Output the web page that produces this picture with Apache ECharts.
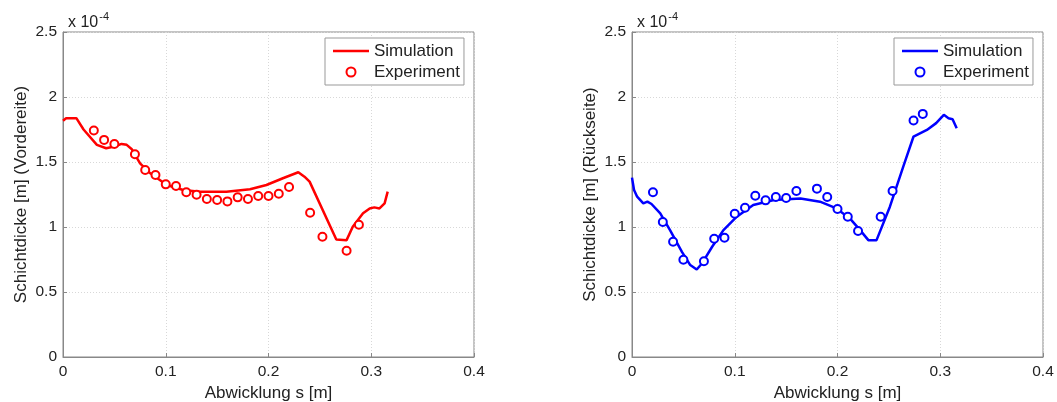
<!DOCTYPE html>
<html><head><meta charset="utf-8">
<script src="https://cdn.jsdelivr.net/npm/echarts@6/dist/echarts.min.js"></script>
<style>html,body{margin:0;padding:0;background:#fff}#c{width:1057px;height:402px}</style>
</head><body><div id="c"></div>
<script>
// values of Schichtdicke in units of 1e-4 m
const xTicks = [0, 0.1, 0.2, 0.3, 0.4];
const yTicks = [0, 0.5, 1, 1.5, 2, 2.5];

const frontSimX = [0, 0.003, 0.013, 0.02, 0.033, 0.042, 0.05, 0.057, 0.062, 0.067, 0.075, 0.085, 0.101, 0.117, 0.133, 0.159, 0.182, 0.198, 0.214, 0.229, 0.235, 0.240, 0.266, 0.276, 0.282, 0.292, 0.2985, 0.303, 0.308, 0.313, 0.316];
const frontSimY = [1.817, 1.837, 1.837, 1.75, 1.632, 1.606, 1.619, 1.639, 1.632, 1.598, 1.490, 1.413, 1.323, 1.285, 1.272, 1.272, 1.290, 1.323, 1.375, 1.421, 1.387, 1.349, 0.904, 0.899, 1.002, 1.105, 1.143, 1.151, 1.143, 1.182, 1.272];
const frontExpX = [0.03, 0.04, 0.05, 0.07, 0.08, 0.09, 0.10, 0.11, 0.12, 0.13, 0.14, 0.15, 0.16, 0.17, 0.18, 0.19, 0.20, 0.21, 0.22, 0.2405, 0.2525, 0.276, 0.288];
const frontExpY = [1.742, 1.670, 1.639, 1.560, 1.439, 1.400, 1.328, 1.315, 1.267, 1.249, 1.215, 1.208, 1.197, 1.228, 1.215, 1.238, 1.238, 1.256, 1.308, 1.110, 0.925, 0.817, 1.017];

const backSimX = [0, 0.002, 0.005, 0.011, 0.015, 0.019, 0.0275, 0.037, 0.0486, 0.0567, 0.063, 0.068, 0.078, 0.089, 0.102, 0.118, 0.138, 0.164, 0.183, 0.199, 0.212, 0.222, 0.230, 0.238, 0.251, 0.264, 0.274, 0.287, 0.296, 0.3035, 0.308, 0.312, 0.316];
const backSimY = [1.380, 1.285, 1.233, 1.182, 1.195, 1.177, 1.105, 0.976, 0.809, 0.707, 0.673, 0.719, 0.848, 0.976, 1.079, 1.169, 1.208, 1.220, 1.195, 1.143, 1.066, 0.976, 0.899, 0.899, 1.156, 1.465, 1.696, 1.747, 1.799, 1.863, 1.837, 1.829, 1.760];
const backExpX = [0.0204, 0.030, 0.040, 0.050, 0.070, 0.080, 0.090, 0.100, 0.110, 0.120, 0.130, 0.140, 0.150, 0.160, 0.180, 0.190, 0.200, 0.210, 0.220, 0.242, 0.2536, 0.274, 0.283];
const backExpY = [1.267, 1.038, 0.886, 0.748, 0.737, 0.910, 0.917, 1.102, 1.148, 1.241, 1.205, 1.231, 1.223, 1.277, 1.295, 1.231, 1.138, 1.079, 0.969, 1.079, 1.277, 1.819, 1.870];

const seriesNames = ['Simulation', 'Experiment'];
const xName = 'Abwicklung s [m]';
const yNames = ['Schichtdicke [m] (Vordereite)', 'Schichtdicke [m] (Rückseite)'];
const RED = '#ff0000', BLUE = '#0000ff';

const zip = (a, b) => a.map((v, i) => [v, b[i]]);
const font = 'Liberation Sans, Arial, sans-serif';
const txt = '#222';

function xAxis(gi) {
  return {
    type: 'value', gridIndex: gi, min: xTicks[0], max: xTicks[xTicks.length - 1], interval: 0.1,
    name: xName, nameLocation: 'middle', nameGap: 24,
    nameTextStyle: { fontFamily: font, fontSize: 17, color: txt },
    axisLine: { lineStyle: { color: '#888', width: 1 } },
    axisTick: { inside: true, length: 4, lineStyle: { color: '#888' } },
    axisLabel: { fontFamily: font, fontSize: 15.5, color: txt, margin: 7 },
    splitLine: { show: true, lineStyle: { color: '#d8d8d8', type: [1, 2] } }
  };
}
function yAxis(gi) {
  return {
    type: 'value', gridIndex: gi, min: yTicks[0], max: yTicks[yTicks.length - 1], interval: 0.5,
    name: yNames[gi], nameLocation: 'middle', nameGap: 33,
    nameTextStyle: { fontFamily: font, fontSize: 17, color: txt },
    axisLine: { show: true, lineStyle: { color: '#888', width: 1 } },
    axisTick: { show: true, inside: true, length: 4, lineStyle: { color: '#888' } },
    axisLabel: { fontFamily: font, fontSize: 15.5, color: txt, margin: 6 },
    splitLine: { show: true, lineStyle: { color: '#d8d8d8', type: [1, 2] } }
  };
}
function legend(gi, left, color) {
  const suf = gi ? ' ' : '';
  return {
    show: true, orient: 'vertical', left: left, top: 38,
    data: [
      { name: seriesNames[0] + suf, icon: 'path://M0,0 L36,0 L36,2.6 L0,2.6 Z', itemStyle: { color, borderWidth: 0 } },
      { name: seriesNames[1] + suf }
    ],
    symbolKeepAspect: true,
    itemWidth: 36, itemHeight: 9, itemGap: 1,
    padding: [3, 4, 3, 8],
    borderColor: '#999', borderWidth: 1, backgroundColor: '#fff', borderRadius: 0,
    textStyle: { fontFamily: font, fontSize: 17, color: txt, lineHeight: 20 },
    formatter: n => n.trim()
  };
}
function series(gi, simX, simY, expX, expY, color) {
  const suf = gi ? ' ' : '';
  return [
    { name: seriesNames[0] + suf, type: 'line', xAxisIndex: gi, yAxisIndex: gi, data: zip(simX, simY),
      showSymbol: false, symbol: 'none', lineStyle: { color, width: 2.5 }, itemStyle: { color }, z: 3 },
    { name: seriesNames[1] + suf, type: 'scatter', xAxisIndex: gi, yAxisIndex: gi, data: zip(expX, expY),
      symbol: 'emptyCircle', symbolSize: 8, itemStyle: { color, borderColor: color, borderWidth: 2, opacity: 1 }, z: 4 }
  ];
}

const chart = echarts.init(document.getElementById('c'), null, { renderer: 'canvas' });
chart.setOption({
  animation: false,
  backgroundColor: '#fff',
  title: [0, 1].map(i => ({
    left: i ? 632 : 63, top: 6,
    text: '{a|x 10}{b|-4}',
    textStyle: { fontWeight: 'normal', rich: {
      a: { fontFamily: font, fontSize: 16, color: txt, fontWeight: 'normal', verticalAlign: 'bottom' },
      b: { fontFamily: font, fontSize: 11, color: txt, fontWeight: 'normal', verticalAlign: 'top', padding: [0, 0, 9, 1] }
    } }
  })),
  grid: [
    { left: 63, top: 32, width: 411, height: 325, outerBoundsMode: 'none', containLabel: false, show: true, borderColor: '#888', borderWidth: 1, backgroundColor: 'transparent' },
    { left: 632, top: 32, width: 411, height: 325, outerBoundsMode: 'none', containLabel: false, show: true, borderColor: '#888', borderWidth: 1, backgroundColor: 'transparent' }
  ],
  xAxis: [xAxis(0), xAxis(1)],
  yAxis: [yAxis(0), yAxis(1)],
  legend: [legend(0, 325, RED), legend(1, 894, BLUE)],
  series: [
    ...series(0, frontSimX, frontSimY, frontExpX, frontExpY, RED),
    ...series(1, backSimX, backSimY, backExpX, backExpY, BLUE)
  ]
});
</script></body></html>
